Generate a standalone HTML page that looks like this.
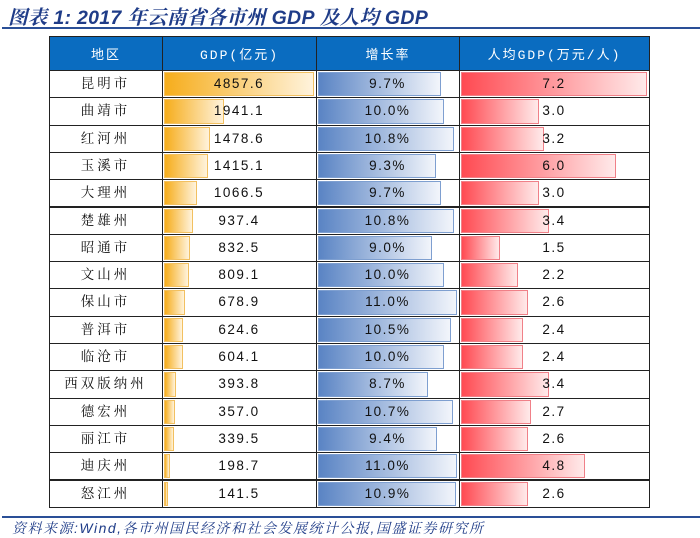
<!DOCTYPE html>
<html><head><meta charset="utf-8"><style>
body{margin:0;width:700px;height:536px;background:#fff;position:relative;overflow:hidden;font-family:"Liberation Sans","Noto Sans CJK SC",sans-serif}
#title{position:absolute;left:8px;top:2px;font-size:19.5px;font-weight:bold;font-style:italic;color:#1f3c88;font-family:"Liberation Sans","Noto Serif CJK SC",sans-serif;white-space:nowrap;letter-spacing:0.3px}
.hl{position:absolute;left:2px;width:698px;height:2px;background:#2a4f97}
#src{position:absolute;left:12px;font-size:14px;font-style:italic;color:#1f3c88;font-family:"Liberation Sans","Noto Serif CJK SC",sans-serif;white-space:nowrap;letter-spacing:1.5px}
.c{position:absolute;box-sizing:border-box;border:1px solid #222;}
.hd{background:#0a6cc0;color:#fff;font-size:13px;display:flex;align-items:center;justify-content:center;letter-spacing:2px;font-family:"Liberation Mono","Noto Sans CJK SC",monospace}
.t{position:absolute;font-size:13.5px;color:#111;text-align:center;letter-spacing:1.5px;font-family:"Liberation Sans","Noto Sans CJK SC",sans-serif}
.nm{font-family:"Liberation Serif","Noto Serif CJK SC",serif;letter-spacing:3px}
.bar{position:absolute;box-sizing:border-box}
</style></head><body>
<div id="title">图表 1:  2017 年云南省各市州 GDP 及人均 GDP</div>
<div class="hl" style="top:27px"></div>
<div id="tbl"></div>
<div class="hl" style="top:516px;height:2px"></div>
<div id="src" style="top:518px">资料来源:Wind,各市州国民经济和社会发展统计公报,国盛证券研究所</div>
<script>
const regions=["昆明市","曲靖市","红河州","玉溪市","大理州","楚雄州","昭通市","文山州","保山市","普洱市","临沧市","西双版纳州","德宏州","丽江市","迪庆州","怒江州"];
const gdp=[4857.6,1941.1,1478.6,1415.1,1066.5,937.4,832.5,809.1,678.9,624.6,604.1,393.8,357.0,339.5,198.7,141.5];
const growth=[9.7,10.0,10.8,9.3,9.7,10.8,9.0,10.0,11.0,10.5,10.0,8.7,10.7,9.4,11.0,10.9];
const perCap=[7.2,3.0,3.2,6.0,3.0,3.4,1.5,2.2,2.6,2.4,2.4,3.4,2.7,2.6,4.8,2.6];
const headers=["地区","GDP(亿元)","增长率","人均GDP(万元/人)"];
const cols=[49,162,316,459,649];
const top0=36,hh=34,rh=27.3;
const tbl=document.getElementById('tbl');
function mk(cls,st){const d=document.createElement('div');d.className=cls;Object.assign(d.style,st);tbl.appendChild(d);return d;}
headers.forEach((h,i)=>{const d=mk('c hd',{left:cols[i]+'px',top:top0+'px',width:(cols[i+1]-cols[i]+1)+'px',height:(hh+1)+'px'});d.textContent=h;

});
const maxG=Math.max(...gdp),maxR=Math.max(...growth),maxP=Math.max(...perCap);
const specs=[
 {arr:gdp,max:maxG,fmt:v=>v.toFixed(1),grad:'linear-gradient(90deg,#f6ad1c,#fff3dc)',bd:'#f2c060'},
 {arr:growth,max:maxR,fmt:v=>v.toFixed(1)+'%',grad:'linear-gradient(90deg,#5a84c4,#f2f5fb)',bd:'#7e9fd0'},
 {arr:perCap,max:maxP,fmt:v=>v.toFixed(1),grad:'linear-gradient(90deg,#ff4a52,#ffeaea)',bd:'#f08088'}];
regions.forEach((r,k)=>{
 const y=top0+hh+k*rh;
 for(let i=0;i<4;i++){
  const w=cols[i+1]-cols[i];
  const c=mk('c',{left:cols[i]+'px',top:y+'px',width:(w+1)+'px',height:(rh+1)+'px'});
  
  
  let txt;
  if(i===0){txt=r;}else{
   const s=specs[i-1];const v=s.arr[k];
   const bw=(w-4)*v/s.max;
   const b=mk('bar',{left:(cols[i]+2)+'px',top:(y+2)+'px',width:bw+'px',height:(rh-3)+'px',background:s.grad,border:'1.5px solid '+s.bd});
   
   
   txt=s.fmt(v);}
  const t=mk('t'+(i===0?' nm':''),{left:cols[i]+'px',top:y+'px',width:w+'px',height:rh+'px',lineHeight:(rh+1)+'px'});
  t.textContent=txt;
  
  
 }
});
</script>
</body></html>
